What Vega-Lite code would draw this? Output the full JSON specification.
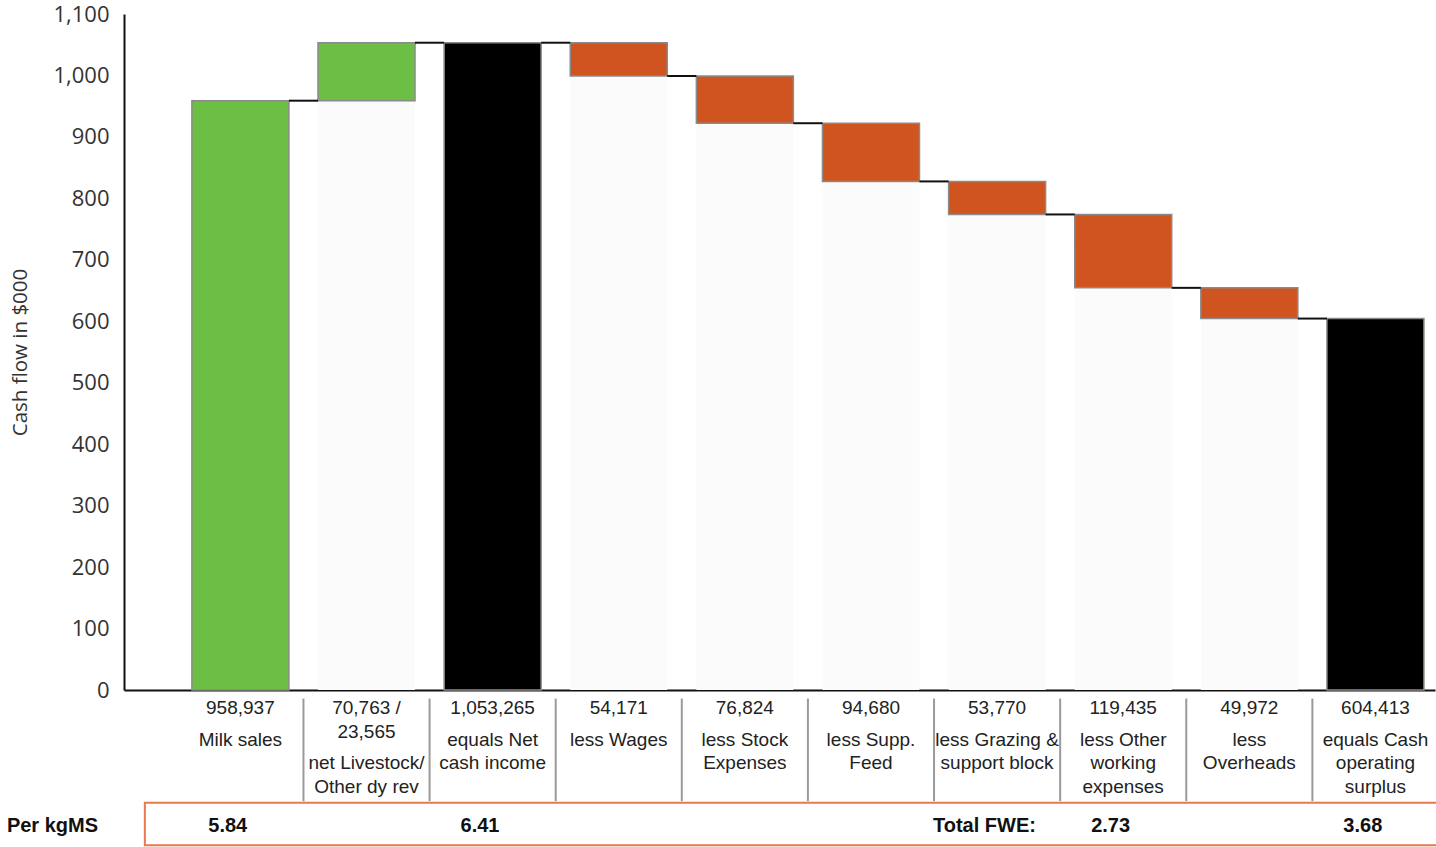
{
  "$schema": "https://vega.github.io/schema/vega-lite/v6.json",
  "padding": {"left": 6, "top": 3, "right": 0, "bottom": 0},
  "background": "white",
  "spacing": 0,
  "bounds": "flush",
  "config": {"view": {"stroke": null}, "font": "Liberation Sans"},
  "datasets": {
    "steps": [
      {"key": "Milk", "low": 0, "high": 958.937, "after": 958.937, "next": "Livestock", "kind": "income"},
      {"key": "Livestock", "low": 958.937, "high": 1053.265, "after": 1053.265, "next": "Net", "kind": "income"},
      {"key": "Net", "low": 0, "high": 1053.265, "after": 1053.265, "next": "Wages", "kind": "total"},
      {"key": "Wages", "low": 999.094, "high": 1053.265, "after": 999.094, "next": "Stock", "kind": "cost"},
      {"key": "Stock", "low": 922.27, "high": 999.094, "after": 922.27, "next": "Supp", "kind": "cost"},
      {"key": "Supp", "low": 827.59, "high": 922.27, "after": 827.59, "next": "Grazing", "kind": "cost"},
      {"key": "Grazing", "low": 773.82, "high": 827.59, "after": 773.82, "next": "Other", "kind": "cost"},
      {"key": "Other", "low": 654.385, "high": 773.82, "after": 654.385, "next": "Overheads", "kind": "cost"},
      {"key": "Overheads", "low": 604.413, "high": 654.385, "after": 604.413, "next": "Surplus", "kind": "cost"},
      {"key": "Surplus", "low": 0, "high": 604.413, "after": 604.413, "next": null, "kind": "total"}
    ],
    "table": [
      {"col": "Milk", "line": 1, "kind": "amount", "text": "958,937"},
      {"col": "Milk", "line": 2, "kind": "label", "text": "Milk sales"},
      {"col": "Livestock", "line": 1, "kind": "amount", "text": "70,763 /"},
      {"col": "Livestock", "line": 2, "kind": "amount", "text": "23,565"},
      {"col": "Livestock", "line": 3, "kind": "label", "text": "net Livestock/"},
      {"col": "Livestock", "line": 4, "kind": "label", "text": "Other dy rev"},
      {"col": "Net", "line": 1, "kind": "amount", "text": "1,053,265"},
      {"col": "Net", "line": 2, "kind": "label", "text": "equals Net"},
      {"col": "Net", "line": 3, "kind": "label", "text": "cash income"},
      {"col": "Wages", "line": 1, "kind": "amount", "text": "54,171"},
      {"col": "Wages", "line": 2, "kind": "label", "text": "less Wages"},
      {"col": "Stock", "line": 1, "kind": "amount", "text": "76,824"},
      {"col": "Stock", "line": 2, "kind": "label", "text": "less Stock"},
      {"col": "Stock", "line": 3, "kind": "label", "text": "Expenses"},
      {"col": "Supp", "line": 1, "kind": "amount", "text": "94,680"},
      {"col": "Supp", "line": 2, "kind": "label", "text": "less Supp."},
      {"col": "Supp", "line": 3, "kind": "label", "text": "Feed"},
      {"col": "Grazing", "line": 1, "kind": "amount", "text": "53,770"},
      {"col": "Grazing", "line": 2, "kind": "label", "text": "less Grazing &"},
      {"col": "Grazing", "line": 3, "kind": "label", "text": "support block"},
      {"col": "Other", "line": 1, "kind": "amount", "text": "119,435"},
      {"col": "Other", "line": 2, "kind": "label", "text": "less Other"},
      {"col": "Other", "line": 3, "kind": "label", "text": "working"},
      {"col": "Other", "line": 4, "kind": "label", "text": "expenses"},
      {"col": "Overheads", "line": 1, "kind": "amount", "text": "49,972"},
      {"col": "Overheads", "line": 2, "kind": "label", "text": "less"},
      {"col": "Overheads", "line": 3, "kind": "label", "text": "Overheads"},
      {"col": "Surplus", "line": 1, "kind": "amount", "text": "604,413"},
      {"col": "Surplus", "line": 2, "kind": "label", "text": "equals Cash"},
      {"col": "Surplus", "line": 3, "kind": "label", "text": "operating"},
      {"col": "Surplus", "line": 4, "kind": "label", "text": "surplus"},
      {"col": "Milk", "line": 6, "kind": "header", "text": "Per kgMS"},
      {"col": "Milk", "line": 6, "kind": "perkg", "text": "5.84"},
      {"col": "Net", "line": 6, "kind": "perkg", "text": "6.41"},
      {"col": "Grazing", "line": 6, "kind": "perkg", "text": "Total FWE:"},
      {"col": "Other", "line": 6, "kind": "perkg", "text": "2.73"},
      {"col": "Surplus", "line": 6, "kind": "perkg", "text": "3.68"}
    ]
  },
  "vconcat": [
    {
      "width": 1311,
      "height": 676,
      "data": {"name": "steps"},
      "encoding": {
        "x": {
          "field": "key",
          "type": "nominal",
          "sort": null,
          "scale": {"type": "band", "domain": ["Milk", "Livestock", "Net", "Wages", "Stock", "Supp", "Grazing", "Other", "Overheads", "Surplus"], "paddingInner": 0.2308, "paddingOuter": 0.313, "align": 0.86},
          "axis": {"labels": false, "ticks": false, "title": null, "domainColor": "#111111", "domainWidth": 2}
        }
      },
      "layer": [
        {
          "mark": {"type": "bar", "color": "#fbfbfb"},
          "encoding": {
            "y": {
              "field": "low",
              "type": "quantitative",
              "scale": {"domain": [0, 1100], "nice": false},
              "axis": {
                "values": [0, 100, 200, 300, 400, 500, 600, 700, 800, 900, 1000, 1100],
                "format": ",.0f",
                "grid": false,
                "ticks": false,
                "labelFont": "Open Sans",
                "labelFontSize": 22,
                "labelColor": "#333333",
                "labelPadding": 15,
                "domainColor": "#111111",
                "domainWidth": 2,
                "title": "Cash flow in $000",
                "titleFont": "Open Sans",
                "titleFontSize": 20.5,
                "titleFontWeight": "normal",
                "titleColor": "#333333",
                "titlePadding": 22
              }
            }
          }
        },
        {
          "mark": {"type": "bar", "stroke": "#8a8a8a", "strokeWidth": 1.5},
          "encoding": {
            "y": {"field": "low", "type": "quantitative"},
            "y2": {"field": "high"},
            "color": {
              "field": "kind",
              "type": "nominal",
              "scale": {"domain": ["income", "total", "cost"], "range": ["#6cbe45", "#000000", "#d0541f"]},
              "legend": null
            }
          }
        },
        {
          "transform": [{"filter": "datum.next != null"}],
          "mark": {"type": "rule", "color": "#111111", "strokeWidth": 2},
          "encoding": {
            "x": {"field": "key", "type": "nominal", "bandPosition": 1},
            "x2": {"field": "next", "bandPosition": 0},
            "y": {"field": "after", "type": "quantitative"}
          }
        }
      ]
    },
    {
      "width": 1311,
      "height": 157,
      "data": {"name": "table"},
      "layer": [
        {
          "transform": [{"filter": "datum.kind == 'amount'"}],
          "mark": {"type": "text", "fontSize": 19, "color": "#222222", "baseline": "middle"},
          "encoding": {
            "x": {
              "field": "col",
              "type": "nominal",
              "sort": null,
              "scale": {"type": "band", "domain": ["Milk", "Livestock", "Net", "Wages", "Stock", "Supp", "Grazing", "Other", "Overheads", "Surplus"], "paddingInner": 0.2308, "paddingOuter": 0.313, "align": 0.86},
              "axis": null
            },
            "y": {
              "field": "line",
              "type": "quantitative",
              "scale": {"domain": [0.237, 6.89], "reverse": true, "nice": false, "zero": false},
              "axis": null
            },
            "text": {"field": "text"}
          }
        },
        {
          "data": {"values": [{}]},
          "mark": {"type": "rect", "fill": null, "stroke": "#e8794d", "strokeWidth": 2},
          "encoding": {
            "x": {"datum": "Milk", "type": "nominal", "bandPosition": -0.485},
            "x2": {"datum": "Surplus", "bandPosition": 1.15},
            "y": {"datum": 5.02, "type": "quantitative"},
            "y2": {"datum": 6.82}
          }
        },
        {
          "data": {"name": "steps"},
          "transform": [{"filter": "datum.next != null"}],
          "mark": {"type": "rule", "color": "#9a9a9a", "strokeWidth": 2},
          "encoding": {
            "x": {"field": "key", "type": "nominal", "bandPosition": 1.15},
            "y": {"datum": 0.6, "type": "quantitative"},
            "y2": {"datum": 4.95}
          }
        },
        {
          "transform": [{"filter": "datum.kind == 'label'"}],
          "mark": {"type": "text", "fontSize": 19, "color": "#222222", "baseline": "middle", "dy": 8},
          "encoding": {
            "x": {"field": "col", "type": "nominal"},
            "y": {"field": "line", "type": "quantitative"},
            "text": {"field": "text"}
          }
        },
        {
          "transform": [{"filter": "datum.kind == 'perkg'"}],
          "mark": {"type": "text", "fontSize": 20, "fontWeight": "bold", "color": "#111111", "baseline": "middle"},
          "encoding": {
            "x": {"field": "col", "type": "nominal", "bandPosition": 0.37},
            "y": {"field": "line", "type": "quantitative"},
            "text": {"field": "text"}
          }
        },
        {
          "transform": [{"filter": "datum.kind == 'header'"}],
          "mark": {"type": "text", "fontSize": 20, "fontWeight": "bold", "color": "#111111", "baseline": "middle", "align": "left"},
          "encoding": {
            "x": {"field": "col", "type": "nominal", "bandPosition": -1.907},
            "y": {"field": "line", "type": "quantitative"},
            "text": {"field": "text"}
          }
        }
      ]
    }
  ]
}
